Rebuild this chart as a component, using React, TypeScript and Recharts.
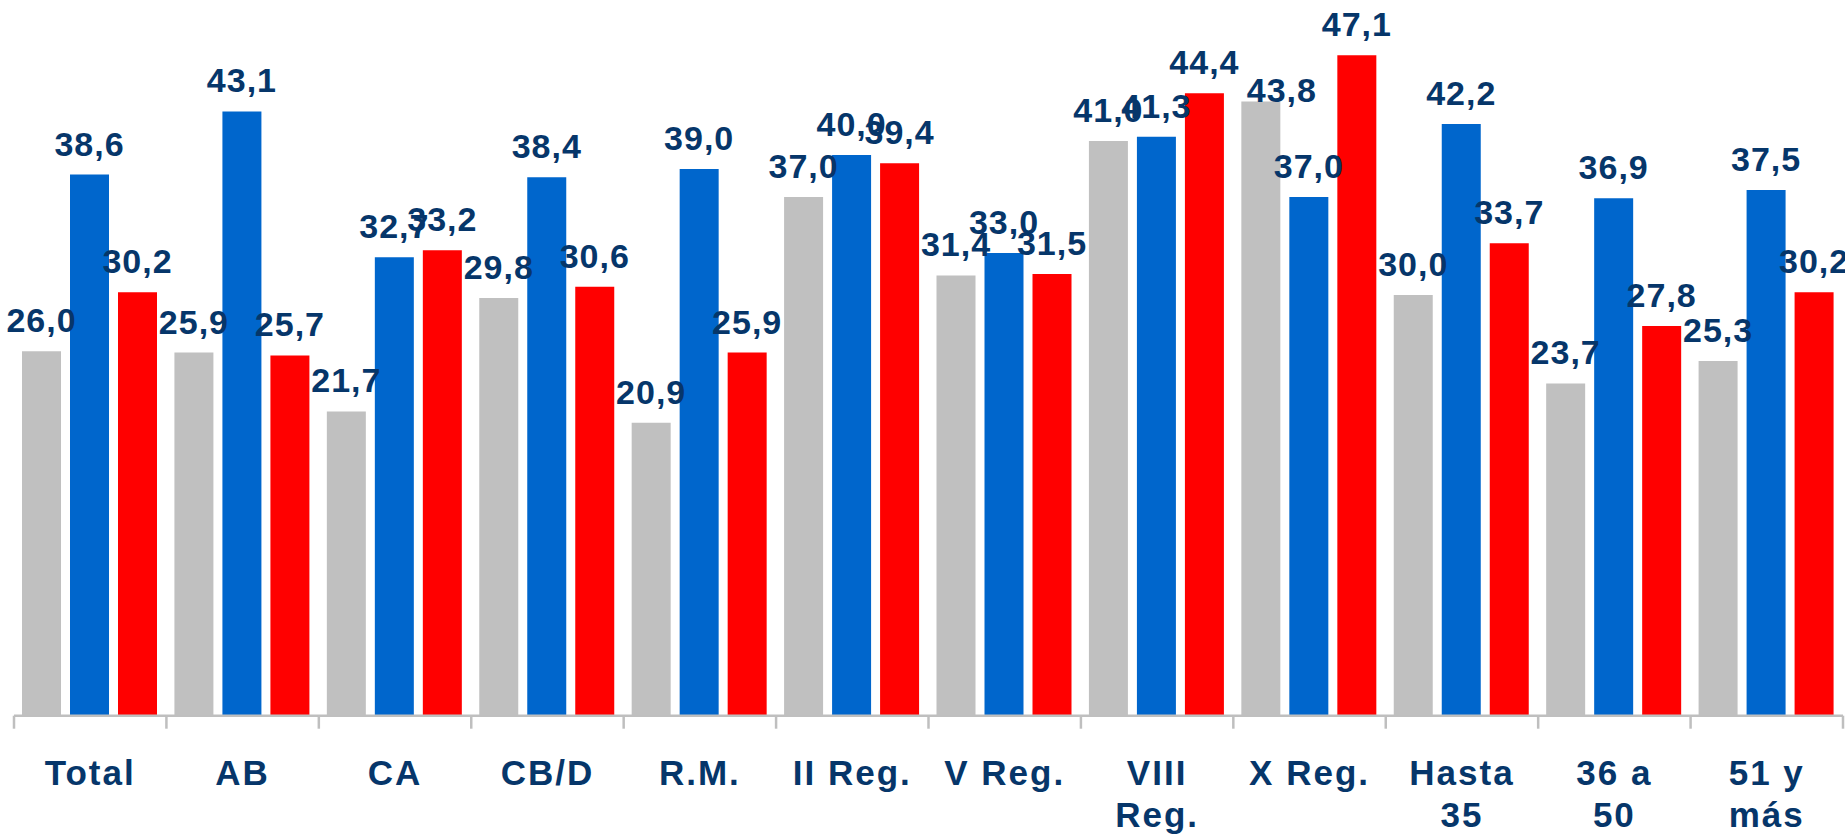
import React from 'react';
import { BarChart, Bar, XAxis, YAxis, LabelList } from 'recharts';

const categories = ['Total', 'AB', 'CA', 'CB/D', 'R.M.', 'II Reg.', 'V Reg.', 'VIII\nReg.', 'X Reg.', 'Hasta\n35', '36 a\n50', '51 y\nmás'];
const serieGris = [26.0, 25.9, 21.7, 29.8, 20.9, 37.0, 31.4, 41.0, 43.8, 30.0, 23.7, 25.3];
const serieAzul = [38.6, 43.1, 32.7, 38.4, 39.0, 40.0, 33.0, 41.3, 37.0, 42.2, 36.9, 37.5];
const serieRoja = [30.2, 25.7, 33.2, 30.6, 25.9, 39.4, 31.5, 44.4, 47.1, 33.7, 27.8, 30.2];

const data = categories.map((c, i) => ({ cat: c, gris: serieGris[i], azul: serieAzul[i], roja: serieRoja[i] }));

const TEXT = '#06366A';
const FONT = '"Liberation Sans", Arial, sans-serif';
const W = 1845;
const H = 837;
const ML = 14;
const MR = 2;

const fmt = (v: number) => v.toFixed(1).replace('.', ',');

const makeLabel = (series: string) => (props: any) => {
  const { x, y, width, value, index } = props;
  // Excel nudged this one label beside its bar to avoid the neighbour's label
  const nudged = series === 'gris' && index === 8;
  const cx = Number(x) + Number(width) / 2 + (nudged ? 21 : 0);
  const by = Number(y) - (nudged ? 0 : 19);
  return (
    <text
      x={cx}
      y={by}
      textAnchor="middle"
      fill={TEXT}
      fontSize={34}
      fontWeight="bold"
      fontFamily={FONT}
      letterSpacing={1}
    >
      {fmt(Number(value))}
    </text>
  );
};

const CategoryTick = (props: any) => {
  const { x, y, payload, index } = props;
  const n = categories.length;
  const bw = (W - ML - MR) / n;
  const lines = String(payload.value).split('\n');
  return (
    <g>
      <line x1={x - bw / 2} x2={x - bw / 2} y1={y} y2={y + 13} stroke="#BFBFBF" strokeWidth={2.5} />
      {index === n - 1 && (
        <line x1={x + bw / 2} x2={x + bw / 2} y1={y} y2={y + 13} stroke="#BFBFBF" strokeWidth={2.5} />
      )}
      <text x={x} y={y + 69} textAnchor="middle" fill={TEXT} fontSize={35} fontWeight="bold" fontFamily={FONT} letterSpacing={2}>
        {lines.map((l, i) => (
          <tspan key={i} x={x} dy={i === 0 ? 0 : 42}>
            {l}
          </tspan>
        ))}
      </text>
    </g>
  );
};

export default function App() {
  return (
    <div style={{ position: 'absolute', left: 0, top: 0, width: W, height: H, overflow: 'hidden', background: '#fff' }}>
      <BarChart
        width={W}
        height={H}
        data={data}
        margin={{ top: 14.7, right: MR, left: ML, bottom: 0 }}
        barCategoryGap={8}
        barGap={9}
      >
        <XAxis
          dataKey="cat"
          height={121.3}
          interval={0}
          tickSize={0}
          tickMargin={0}
          tickLine={false}
          axisLine={{ stroke: '#BFBFBF', strokeWidth: 2.5 }}
          tick={<CategoryTick />}
        />
        <YAxis hide domain={[0, 50]} />
        <Bar dataKey="gris" fill="#C0C0C0" isAnimationActive={false}>
          <LabelList dataKey="gris" content={makeLabel('gris')} />
        </Bar>
        <Bar dataKey="azul" fill="#0066CC" isAnimationActive={false}>
          <LabelList dataKey="azul" content={makeLabel('azul')} />
        </Bar>
        <Bar dataKey="roja" fill="#FF0000" isAnimationActive={false}>
          <LabelList dataKey="roja" content={makeLabel('roja')} />
        </Bar>
      </BarChart>
    </div>
  );
}
